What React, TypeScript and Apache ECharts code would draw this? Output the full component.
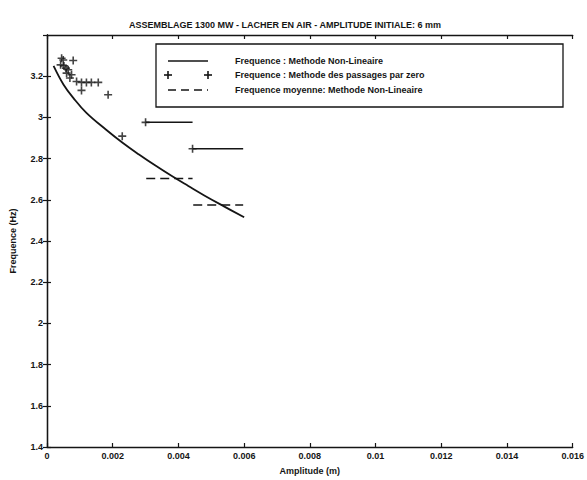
import React, { useEffect, useRef } from "react";
import * as echarts from "echarts";

const titleText = "ASSEMBLAGE 1300 MW - LACHER EN AIR - AMPLITUDE INITIALE: 6 mm";
const xName = "Amplitude (m)";
const yName = "Frequence (Hz)";
const legendLabels = [
  "Frequence : Methode Non-Lineaire",
  "Frequence : Methode des passages par zero",
  "Frequence moyenne: Methode Non-Lineaire",
];

// Non-linear method frequency curve
const nlAmp = [0.0002, 0.0005, 0.0008, 0.0012, 0.0018, 0.0023, 0.0028, 0.0033, 0.0038, 0.0043, 0.0048, 0.0054, 0.006];
const nlFreq = [3.25, 3.16, 3.095, 3.022, 2.94, 2.877, 2.82, 2.766, 2.715, 2.667, 2.62, 2.567, 2.515];

// Zero-crossing method points
const zcAmp = [0.000445, 0.000495, 0.000797, 0.000414, 0.000515, 0.000576, 0.000646, 0.000596, 0.000747, 0.000697, 0.0009, 0.00105, 0.0012, 0.00135, 0.00156, 0.00105, 0.00186, 0.00229, 0.003, 0.00443];
const zcFreq = [3.287, 3.279, 3.276, 3.255, 3.25, 3.239, 3.231, 3.215, 3.207, 3.191, 3.174, 3.17, 3.17, 3.17, 3.17, 3.131, 3.11, 2.909, 2.976, 2.848];

// Zero-crossing spans (start amplitude, end amplitude, frequency)
const zcSpanStart = [0.003, 0.00443];
const zcSpanEnd = [0.00443, 0.00597];
const zcSpanFreq = [2.976, 2.848];

// Mean frequency (non-linear) spans
const meanStart = [0.00302, 0.00445];
const meanEnd = [0.00443, 0.00597];
const meanFreq = [2.703, 2.575];

const INK = "#151515";
const FONT = "'Liberation Sans', Arial, sans-serif";
const PLUS = "path://M4,0H6V4H10V6H6V10H4V6H0V4H4Z";

export default function App() {
  const ref = useRef<HTMLDivElement>(null);
  useEffect(() => {
    if (!ref.current) return;
    const chart = echarts.init(ref.current, null, { renderer: "svg" });
    const fmtX = (v: number) => String(+(+v).toFixed(4));
    const fmtY = (v: number) => String(+(+v).toFixed(1));
    const axisLine = { show: true, lineStyle: { color: INK, width: 1.3 } };
    const tick = { show: true, inside: true, length: 4, lineStyle: { color: INK, width: 1.2 } };

    const series: any[] = [
      {
        type: "line",
        data: nlAmp.map((x, i) => [x, nlFreq[i]]),
        symbol: "none",
        smooth: 0.4,
        lineStyle: { color: INK, width: 1.8 },
        z: 3,
      },
      {
        type: "scatter",
        data: zcAmp.map((x, i) => [x, zcFreq[i]]),
        symbol: PLUS,
        symbolSize: 8,
        itemStyle: { color: INK },
        z: 4,
      },
    ];
    zcSpanStart.forEach((s, i) => {
      series.push({
        type: "line",
        data: [[s, zcSpanFreq[i]], [zcSpanEnd[i], zcSpanFreq[i]]],
        symbol: "none",
        lineStyle: { color: INK, width: 1.5 },
      });
    });
    meanStart.forEach((s, i) => {
      series.push({
        type: "line",
        data: [[s, meanFreq[i]], [meanEnd[i], meanFreq[i]]],
        symbol: "none",
        lineStyle: { color: INK, width: 1.5, type: [9, 5] },
      });
    });

    const lx0 = 168, lx1 = 208, tx = 235;
    const rows = [61, 75, 90];
    const plusG = (cx: number, cy: number) => [
      { type: "line", shape: { x1: cx - 4, y1: cy, x2: cx + 4, y2: cy }, style: { stroke: INK, lineWidth: 1.6 } },
      { type: "line", shape: { x1: cx, y1: cy - 4, x2: cx, y2: cy + 4 }, style: { stroke: INK, lineWidth: 1.6 } },
    ];

    chart.setOption({
      animation: false,
      backgroundColor: "#fff",
      title: {
        text: titleText,
        left: 280,
        textAlign: "center",
        top: 15,
        textStyle: { fontFamily: FONT, fontSize: 9, fontWeight: "bold", color: INK },
      },
      grid: { left: 47, right: 12, top: 35, bottom: 31, containLabel: false },
      xAxis: [
        {
          type: "value",
          min: 0,
          max: 0.016,
          interval: 0.002,
          name: xName,
          nameLocation: "middle",
          nameGap: 19,
          nameTextStyle: { fontFamily: FONT, fontSize: 9, fontWeight: "bold", color: INK },
          axisLine,
          axisTick: tick,
          splitLine: { show: false },
          axisLabel: { formatter: fmtX, margin: 4, fontFamily: FONT, fontSize: 9, fontWeight: "bold", color: INK },
        },
        {
          type: "value",
          position: "top",
          min: 0,
          max: 0.016,
          interval: 0.002,
          axisLine,
          axisTick: tick,
          splitLine: { show: false },
          axisLabel: { show: false },
        },
      ],
      yAxis: [
        {
          type: "value",
          min: 1.4,
          max: 3.4,
          interval: 0.2,
          name: yName,
          nameLocation: "middle",
          nameGap: 30,
          nameRotate: 90,
          nameTextStyle: { fontFamily: FONT, fontSize: 9, fontWeight: "bold", color: INK },
          axisLine,
          axisTick: tick,
          splitLine: { show: false },
          axisLabel: { formatter: fmtY, margin: 4, showMaxLabel: false, fontFamily: FONT, fontSize: 9, fontWeight: "bold", color: INK },
        },
        {
          type: "value",
          position: "right",
          min: 1.4,
          max: 3.4,
          interval: 0.2,
          axisLine,
          axisTick: tick,
          splitLine: { show: false },
          axisLabel: { show: false },
        },
      ],
      series,
      graphic: [
        {
          type: "group",
          z: 100,
          children: [
            { type: "rect", shape: { x: 156, y: 44, width: 407, height: 63 }, style: { fill: "#fff", stroke: INK, lineWidth: 1.3 } },
            { type: "line", shape: { x1: lx0, y1: rows[0], x2: lx1, y2: rows[0] }, style: { stroke: INK, lineWidth: 1.6 } },
            ...plusG(lx0, rows[1]),
            ...plusG(lx1, rows[1]),
            { type: "line", shape: { x1: lx0, y1: rows[2], x2: lx1, y2: rows[2] }, style: { stroke: INK, lineWidth: 1.5, lineDash: [8, 5] } },
            ...legendLabels.map((t, i) => ({
              type: "text",
              x: tx,
              y: rows[i],
              style: { text: t, fill: INK, fontFamily: FONT, fontSize: 9, fontWeight: "bold", verticalAlign: "middle", align: "left" },
            })),
          ],
        },
      ],
    });
    return () => chart.dispose();
  }, []);
  return <div ref={ref} style={{ position: "absolute", left: 0, top: 0, width: 587, height: 480 }} />;
}
